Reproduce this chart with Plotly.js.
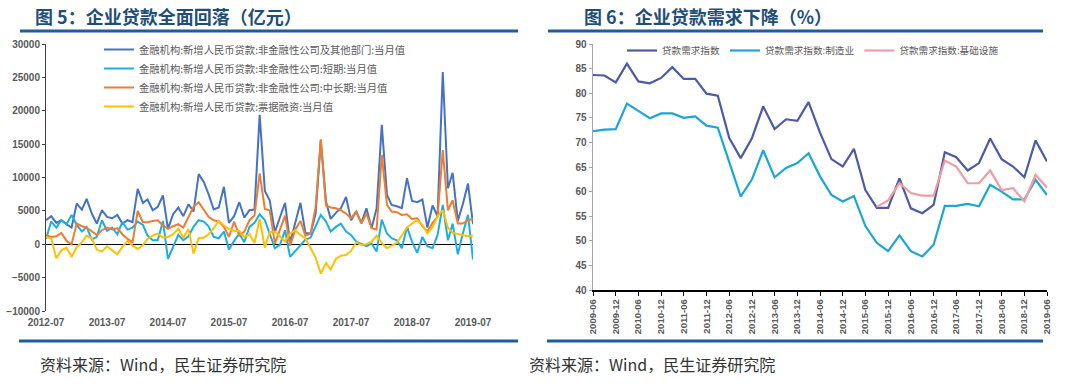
<!DOCTYPE html>
<html>
<head>
<meta charset="utf-8">
<script src="https://cdn.plot.ly/plotly-3.0.1.min.js"></script>
<style>
  html, body { margin: 0; padding: 0; background: #fff; }
  #chart { width: 1080px; height: 384px; }
</style>
</head>
<body>
<div id="chart"></div>
<script>
// ---------------- Left chart data (monthly, 2012-07 .. 2019-07), 亿元 ----------------
const leftStart = { year: 2012, month: 7 };
const leftCount = 85;

const loansTotal = [
  3600, 4200, 3200, 3600, 3000, 2500, 6100, 5200, 6800, 4600, 3100, 5100,
  4100, 3900, 4400, 3100, 3600, 3300, 8300, 6200, 6700, 5100, 5600, 7300,
  2300, 4500, 5500, 4200, 6000, 4900, 10500, 9300, 7500, 5200, 5500, 8600,
  3200, 4200, 6300, 4000, 5100, 5200, 19400, 8000, 6600, 1800, 4000, 6200,
  200, 3000, 6200, 1700, 1600, 4600, 15600, 6400, 3800, 4700, 5400, 7100,
  3600, 4900, 3200, 5400, 2400, 5400, 17900, 7400, 5900, 5700, 5400, 9900,
  6500, 6300, 6700, 2500, 5800, 4200, 25800, 8400, 10700, 3500, 6000, 9100,
  3000
];
const loansShort = [
  800, 3400, 2500, 3600, 3000, 4400, 2900, 1900, 2600, 700, 1100, 3600,
  2000, 2500, 1500, 3300, 2200, 2500, 3400, 2900, 1300, 600, 600, 3500,
  -2200, -400, 1400, 600, 1200, 2600, 3600, 3400, 2700, 1100, 900, 1900,
  -800, 500, 1600, 300, 2600, 3200, 4500, 3600, 1400, -600, -100, 2100,
  -1900, -1000, -100, 700, 1000, 2700, 4400, 3400, 1900, 2600, 3100, 1900,
  1400, 400, 100, -300, 100, -1100, 3700, 1600, 900, 600, -600, 2600,
  400, -1300, 1100, -300, -600, 1400, 5900, 600, 3100, -1500, 1600, 4400,
  -2300
];
const loansMidLong = [
  1400, 1100, 1200, 1700, 500, 0, 3100, 2700, 2500, 1900, 1400, 2100,
  2500, 2200, 2400, 1500, 800, 300, 5000, 3300, 3300, 3500, 3600, 2800,
  2300, 2700, 3000, 2500, 4100, 5600, 6300, 5100, 4100, 3600, 3400, 2600,
  1100, 3400, 1300, 1900, 3600, 4300, 10600, 5300, 5100, 100, 2100, 4300,
  -200, 2200, 3500, 1300, 1600, 5600, 15700, 5800, 5500, 5400, 5100, 4600,
  3900, 4900, 3100, 4600, 2400, 2200, 13400, 5900, 4900, 4800, 4400, 4500,
  3800, 3900, 2700, 1900, 3200, 4100, 14100, 5100, 6600, 3100, 3100, 3600,
  3800
];
const loansBill = [
  1100, 900, -2100, -900, -500, -1900, -400, 300, 1300, 900, -800, -1100,
  -300, -900, -1500, -400, 500, -200, -700, -100, 800, 1300, 1600, 1000,
  1100, 1500, 2300, 1000, 2300, -1400, 900, 1000, 1500, 2400, 3500, 2800,
  2300, 2000, 2000, 1100, 1500, 200, 3800, -500, 1800, 1900, 1200, 400,
  1600, 2100, 1400, 900, -600, -2000, -4400, -2800, -3800, -2200, -1700, -1600,
  -1000, 300, -100, 0, 400, 1300, 200, -600, -200, 200, 1300, 2500,
  3100, 3600, 2900, 1600, 2600, 4200, 5100, 2500, 1700, 1600, 1400, 1200,
  1300
];
const leftNames = [
  '金融机构:新增人民币贷款:非金融性公司及其他部门:当月值',
  '金融机构:新增人民币贷款:非金融性公司:短期:当月值',
  '金融机构:新增人民币贷款:非金融性公司:中长期:当月值',
  '金融机构:新增人民币贷款:票据融资:当月值'
];
const leftYTicks = [-10000, -5000, 0, 5000, 10000, 15000, 20000, 25000, 30000];

// ---------------- Right chart data (quarterly, 2009-06 .. 2019-06), % ----------------
const rightStart = { year: 2009, month: 6 };
const rightCount = 41;
const demandAll = [
  83.7, 83.6, 82.2, 86.0, 82.4, 82.0, 83.1, 85.3, 82.9, 82.9, 79.9, 79.5,
  70.9, 66.8, 70.9, 77.3, 72.7, 74.7, 74.4, 78.2, 72.0, 66.6, 65.1, 68.7,
  60.3, 56.7, 56.7, 62.7, 56.6, 55.6, 57.3, 68.0, 67.0, 64.3, 65.8, 70.8,
  66.6, 65.1, 62.9, 70.4, 66.1
];
const demandMfg = [
  72.3, 72.6, 72.7, 77.9, 76.4, 74.9, 75.9, 75.9, 75.0, 75.3, 73.4, 73.0,
  66.0, 59.0, 62.5, 68.4, 62.9, 64.8, 65.8, 67.8, 63.1, 59.3, 58.0, 59.1,
  53.0, 49.6, 47.9, 51.1, 47.9, 46.8, 49.2, 57.1, 57.1, 57.5, 57.0, 61.4,
  60.0, 58.4, 58.4, 62.4, 59.3
];
const demandInfra = [
  null, null, null, null, null, null, null, null, null, null, null, null,
  null, null, null, null, null, null, null, null, null, null, null, null,
  null, 56.9, 58.2, 61.7, 59.7, 59.2, 59.2, 66.3, 65.1, 61.7, 61.7, 64.3,
  60.3, 60.7, 58.0, 63.4, 60.8
];
const rightNames = ['贷款需求指数', '贷款需求指数:制造业', '贷款需求指数:基础设施'];

// ---------------- Texts ----------------
const titleLeft = '图 5：企业贷款全面回落（亿元）';
const titleRight = '图 6：企业贷款需求下降（%）';
const sourceText = '资料来源：Wind，民生证券研究院';

// ---------------- helpers ----------------
function monthSeries(start, count, step) {
  const out = [];
  for (let i = 0; i < count; i++) {
    const idx = (start.month - 1) + i * step;
    const y = start.year + Math.floor(idx / 12);
    const m = (idx % 12) + 1;
    out.push(y + '-' + String(m).padStart(2, '0') + '-01');
  }
  return out;
}
const leftDates = monthSeries(leftStart, leftCount, 1);
const rightDates = monthSeries(rightStart, rightCount, 3);
const leftTickVals = leftDates.filter(d => d.slice(5, 7) === '07');

const W = 1080, H = 384;
const px = x => x / W;
const py = y => 1 - y / H;

const leftColors = ['#4472C4', '#1CADE4', '#ED7D31', '#FFC000'];
const rightColors = ['#4B5BA6', '#1BA6D8', '#F19CA4'];

const tickFont = { family: 'Liberation Sans, Arial, sans-serif', size: 10, color: '#595959', weight: 'bold' };
const legendFont = { family: 'Noto Sans CJK SC, sans-serif', size: 10.3, color: '#595959' };
const legendFont2 = { family: 'Noto Sans CJK SC, sans-serif', size: 9.6, color: '#595959' };

const leftSeries = [loansTotal, loansShort, loansMidLong, loansBill];
const traces = [];
leftSeries.forEach((vals, i) => {
  traces.push({
    type: 'scatter', mode: 'lines', x: leftDates, y: vals, name: leftNames[i],
    xaxis: 'x', yaxis: 'y', legend: 'legend',
    line: { color: leftColors[i], width: 2 }, hoverinfo: 'skip'
  });
});
const rightSeries = [demandAll, demandMfg, demandInfra];
rightSeries.forEach((vals, i) => {
  traces.push({
    type: 'scatter', mode: 'lines', x: rightDates, y: vals, name: rightNames[i],
    xaxis: 'x2', yaxis: 'y2', legend: 'legend2',
    line: { color: rightColors[i], width: 2.2 }, hoverinfo: 'skip'
  });
});

const lineColor = '#1E5C9B';
const layout = {
  width: W, height: H,
  margin: { l: 0, r: 0, t: 0, b: 0 },
  paper_bgcolor: '#ffffff', plot_bgcolor: 'rgba(0,0,0,0)',
  showlegend: true,
  xaxis: {
    domain: [px(46), px(473)], anchor: 'y', type: 'date',
    range: [leftDates[0], leftDates[leftDates.length - 1]],
    tickvals: leftTickVals, tickformat: '%Y-%m',
    showline: false, ticks: '', showgrid: false, zeroline: false,
    ticklabelstandoff: 4,
    tickfont: tickFont, automargin: false, fixedrange: true
  },
  yaxis: {
    domain: [py(311), py(44)], anchor: 'x', range: [-10000, 30000], tickvals: leftYTicks,
    tickformat: 'd',
    showline: true, linecolor: '#404040', linewidth: 1,
    ticks: 'outside', ticklen: 3, tickcolor: '#404040',
    showgrid: false, zeroline: true, zerolinecolor: '#000', zerolinewidth: 1.5,
    tickfont: tickFont, automargin: false, fixedrange: true
  },
  xaxis2: {
    domain: [px(593), px(1047)], anchor: 'y2', type: 'date',
    range: [rightDates[0], rightDates[rightDates.length - 1]],
    tick0: rightDates[0], dtick: 'M6', tickformat: '%Y-%m', tickangle: -90,
    showline: true, linecolor: '#000', linewidth: 1.5,
    ticks: 'outside', ticklen: 4, tickcolor: '#000',
    showgrid: false, zeroline: false, tickfont: { ...tickFont, size: 9.5 },
    automargin: false, fixedrange: true
  },
  yaxis2: {
    domain: [py(290), py(44)], anchor: 'x2', range: [40, 90], dtick: 5,
    showline: true, linecolor: '#A6A6A6', linewidth: 1.5,
    ticks: 'outside', ticklen: 3, tickcolor: '#A6A6A6',
    showgrid: false, zeroline: false, tickfont: tickFont,
    automargin: false, fixedrange: true
  },
  legend: {
    x: px(99), y: py(35), xanchor: 'left', yanchor: 'top', orientation: 'v',
    font: legendFont, bgcolor: 'rgba(0,0,0,0)', borderwidth: 0, tracegroupgap: 0
  },
  legend2: {
    x: px(622), y: py(36), xanchor: 'left', yanchor: 'top', orientation: 'h',
    font: legendFont2, bgcolor: 'rgba(0,0,0,0)', borderwidth: 0
  },
  annotations: [
    { xref: 'paper', yref: 'paper', x: px(33), y: py(16), xanchor: 'left', yanchor: 'middle',
      text: titleLeft, showarrow: false,
      font: { family: 'Noto Sans CJK SC, sans-serif', size: 18, color: '#1F4E79', weight: 'bold' } },
    { xref: 'paper', yref: 'paper', x: px(582), y: py(16), xanchor: 'left', yanchor: 'middle',
      text: titleRight, showarrow: false,
      font: { family: 'Noto Sans CJK SC, sans-serif', size: 18, color: '#1F4E79', weight: 'bold' } },
    { xref: 'paper', yref: 'paper', x: px(38), y: py(364), xanchor: 'left', yanchor: 'middle',
      text: sourceText, showarrow: false,
      font: { family: 'Noto Sans CJK SC, sans-serif', size: 16, color: '#333333' } },
    { xref: 'paper', yref: 'paper', x: px(527), y: py(364), xanchor: 'left', yanchor: 'middle',
      text: sourceText, showarrow: false,
      font: { family: 'Noto Sans CJK SC, sans-serif', size: 16, color: '#333333' } }
  ],
  shapes: [
    { type: 'line', xref: 'paper', yref: 'paper', x0: px(20), x1: px(518), y0: py(31), y1: py(31), line: { color: lineColor, width: 3 } },
    { type: 'line', xref: 'paper', yref: 'paper', x0: px(548), x1: px(1043), y0: py(31), y1: py(31), line: { color: lineColor, width: 3 } },
    { type: 'line', xref: 'paper', yref: 'paper', x0: px(19), x1: px(518), y0: py(341), y1: py(341), line: { color: lineColor, width: 3 } },
    { type: 'line', xref: 'paper', yref: 'paper', x0: px(547), x1: px(1043), y0: py(341), y1: py(341), line: { color: lineColor, width: 3 } }
  ]
};

Plotly.newPlot('chart', traces, layout, { displayModeBar: false, staticPlot: true });
</script>
</body>
</html>
